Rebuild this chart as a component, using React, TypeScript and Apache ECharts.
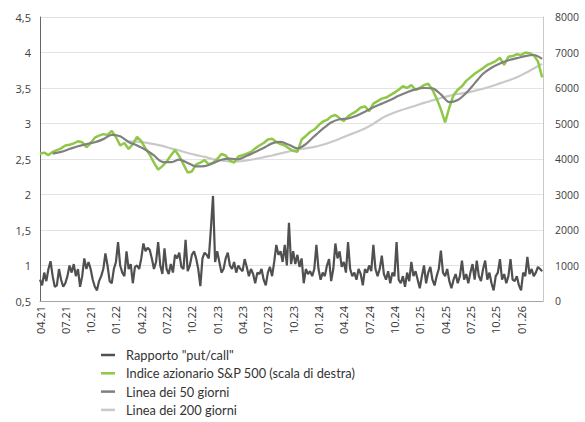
import React, { useEffect, useRef } from 'react';
import * as echarts from 'echarts';

// x unit: months since April 2021
const xTickLabels = ['04.21', '07.21', '10.21', '01.22', '04.22', '07.22', '10.22', '01.23', '04.23', '07.23', '10.23', '01.24', '04.24', '07.24', '10.24', '01.25', '04.25', '07.25', '10.25', '01.26'];

const seriesNames = ['Rapporto "put/call"', 'Indice azionario S&P 500 (scala di destra)', 'Linea dei 50 giorni', 'Linea dei 200 giorni'];

// put/call ratio, weekly (step 0.25 month from Apr 2021)
const putCallStep = 0.25;
const putCall = [
  0.80, 0.72, 0.90, 0.78, 0.95, 1.06, 0.85, 0.70, 0.72, 0.95, 0.80, 0.70,
  0.75, 0.85, 1.00, 0.90, 1.02, 0.85, 0.95, 0.70, 0.85, 1.10, 0.95, 1.05,
  0.95, 0.80, 0.70, 0.65, 0.78, 0.85, 0.95, 1.17, 1.00, 0.78, 0.75, 0.95,
  1.05, 1.33, 1.00, 0.90, 0.85, 1.20, 0.95, 1.02, 0.75, 0.98, 1.00, 0.95,
  1.10, 1.31, 1.20, 1.25, 1.22, 1.10, 0.95, 1.05, 1.33, 1.00, 0.88, 1.24,
  0.95, 0.88, 1.02, 0.90, 1.15, 1.10, 1.18, 0.98, 0.95, 1.36, 0.92, 1.00,
  1.15, 1.20, 1.10, 0.95, 0.71, 1.10, 1.18, 1.15, 1.10, 1.52, 1.98, 1.05,
  1.20, 1.05, 0.90, 0.95, 1.10, 1.18, 1.00, 0.95, 1.05, 0.90, 1.00, 0.95,
  0.92, 1.09, 0.98, 0.85, 0.95, 0.88, 0.75, 0.90, 0.88, 0.95, 0.80, 0.72,
  0.90, 0.98, 0.85, 1.05, 1.29, 1.15, 1.20, 1.05, 1.29, 1.00, 1.60, 1.02,
  1.20, 1.02, 1.15, 0.98, 1.10, 0.75, 0.95, 0.88, 0.92, 0.85, 0.95, 1.29,
  0.95, 0.80, 0.90, 0.85, 1.00, 1.09, 0.78, 0.95, 1.31, 1.10, 1.20, 0.98,
  1.05, 0.90, 1.33, 0.95, 0.85, 0.90, 0.80, 0.95, 0.88, 0.72, 0.95, 0.90,
  1.00, 0.92, 1.29, 0.95, 0.85, 0.95, 1.14, 0.88, 0.80, 0.92, 0.75, 0.90,
  0.85, 1.33, 0.80, 0.75, 0.85, 0.70, 0.90, 0.78, 1.05, 0.85, 0.92, 0.80,
  0.68, 0.85, 1.00, 0.75, 0.90, 0.98, 0.80, 0.72, 0.85, 0.95, 1.21, 0.90,
  0.85, 0.95, 0.78, 0.68, 0.80, 0.88, 0.75, 0.85, 1.07, 0.80, 0.88, 0.75,
  0.90, 1.02, 0.80, 1.07, 0.85, 0.78, 0.95, 1.07, 0.80, 0.90, 0.75, 0.65,
  0.85, 0.90, 1.09, 0.80, 0.88, 0.75, 0.85, 1.09, 0.80, 0.78, 0.85, 0.72,
  0.65, 0.90, 0.85, 1.12, 0.88, 0.95, 0.85, 0.90, 0.98, 0.95, 0.92,
];

// S&P 500, half-monthly from Apr 2021
const spxStep = 0.5;
const spx = [
  4150, 4180, 4110, 4200, 4250, 4300, 4380, 4400, 4440, 4500,
  4470, 4330, 4450, 4600, 4660, 4700, 4680, 4790, 4620, 4380,
  4450, 4280, 4420, 4620, 4500, 4300, 4120, 3900, 3700, 3800,
  3930, 4100, 4250, 4080, 3850, 3620, 3650, 3850, 3900, 3970,
  3850, 3900, 4000, 4140, 4100, 3950, 3900, 4070, 4110, 4150,
  4200, 4300, 4380, 4450, 4550, 4570, 4480, 4420, 4380, 4300,
  4230, 4200, 4550, 4650, 4760, 4830, 4950, 5050, 5100, 5200,
  5240, 5150, 5070, 5200, 5280, 5350, 5450, 5480, 5350, 5560,
  5630, 5700, 5730, 5800, 5870, 5950, 6050, 6000, 6080, 5950,
  6000, 6080, 6120, 5950, 5700, 5400, 5030, 5450, 5800, 5950,
  6050, 6200, 6300, 6400, 6480, 6560, 6650, 6700, 6760, 6850,
  6650, 6880, 6900, 6950, 6930, 7000, 6980, 6920, 6750, 6300,
];

// 50-day line, monthly from mid-May 2021
const ma50Start = 1.5;
const ma50 = [
  4150, 4200, 4280, 4360, 4420, 4470, 4560, 4680, 4640, 4480,
  4380, 4260, 4100, 3920, 3910, 3980, 3890, 3790, 3800, 3880,
  3980, 4010, 3990, 4090, 4200, 4310, 4440, 4480, 4400, 4300,
  4420, 4640, 4850, 5030, 5120, 5140, 5220, 5330, 5460, 5560,
  5660, 5780, 5880, 5960, 6000, 5990, 5820, 5600, 5660, 5860,
  6130, 6400, 6570, 6690, 6780, 6840, 6900, 6930, 6820,
];

// 200-day line, monthly from mid-Feb 2022
const ma200Start = 10.5;
const ma200 = [
  4500, 4490, 4460, 4420, 4370, 4300, 4240, 4170, 4110, 4060,
  4000, 3960, 3930, 3930, 3960, 4000, 4050, 4100, 4160, 4210,
  4260, 4300, 4340, 4400, 4480, 4570, 4670, 4760, 4860, 4990,
  5150, 5260, 5350, 5430, 5500, 5580, 5650, 5720, 5780, 5830,
  5870, 5920, 5980, 6050, 6130, 6210, 6300, 6420, 6550, 6680,
];

const colors = ['#505050', '#8fc846', '#808080', '#c9c9c9'];
const axisFont = 'Open Sans, Noto Sans, sans-serif';

export default function App() {
  const ref = useRef<HTMLDivElement>(null);
  useEffect(() => {
    const chart = echarts.init(ref.current!, undefined, { renderer: 'svg' });
    const option: any = {
      animation: false,
      backgroundColor: '#ffffff',
      grid: { left: 40, right: 42, top: 17, bottom: 121, containLabel: false },
      legend: {
        orient: 'vertical',
        left: 101,
        top: 348,
        padding: 0,
        itemWidth: 14,
        itemHeight: 2.5,
        itemGap: 4.3,
        textStyle: { fontFamily: 'Lato, sans-serif', fontSize: 12.8, color: '#333333', lineHeight: 14, padding: [0, 0, 0, 6] },
        data: seriesNames.map((n) => ({ name: n, icon: 'rect' })),
      },
      xAxis: {
        type: 'value',
        min: 0,
        max: 59.6,
        interval: 3,
        splitLine: { show: false },
        axisTick: { show: false },
        axisLine: { show: true, lineStyle: { color: '#a6a6a6', width: 1 } },
        axisLabel: {
          rotate: 90,
          margin: 5,
          fontSize: 11,
          fontFamily: axisFont,
          color: '#333333',
          showMaxLabel: false,
          formatter: (v: number) => {
            const i = Math.round(v / 3);
            return Math.abs(v - i * 3) < 1e-6 && i < xTickLabels.length ? xTickLabels[i] : '';
          },
        },
      },
      yAxis: [
        {
          type: 'value',
          min: 0.5,
          max: 4.5,
          interval: 0.5,
          axisLine: { show: true, lineStyle: { color: '#666666', width: 1 } },
          axisTick: { show: false },
          splitLine: { show: true, lineStyle: { color: '#e3e3e3', width: 1 } },
          axisLabel: {
            margin: 9,
            fontSize: 11,
            fontFamily: axisFont,
            color: '#404040',
            formatter: (v: number) => String(v).replace('.', ','),
          },
        },
        {
          type: 'value',
          min: 0,
          max: 8000,
          interval: 1000,
          position: 'right',
          axisLine: { show: true, lineStyle: { color: '#c8c8c8', width: 1 } },
          axisTick: { show: false },
          splitLine: { show: false },
          axisLabel: {
            margin: 12,
            fontSize: 10.5,
            fontFamily: axisFont,
            color: '#404040',
            formatter: (v: number) => String(v),
          },
        },
      ],
      series: [
        {
          name: seriesNames[0],
          type: 'line',
          yAxisIndex: 0,
          symbol: 'none',
          color: colors[0],
          lineStyle: { color: colors[0], width: 2.2 },
          data: putCall.map((v, i) => [i * putCallStep, v]),
        },
        {
          name: seriesNames[3],
          type: 'line',
          yAxisIndex: 1,
          symbol: 'none',
          color: colors[3],
          lineStyle: { color: colors[3], width: 2.2 },
          smooth: 0.3,
          data: ma200.map((v, i) => [ma200Start + i, v]),
        },
        {
          name: seriesNames[1],
          type: 'line',
          yAxisIndex: 1,
          symbol: 'none',
          color: colors[1],
          lineStyle: { color: colors[1], width: 2.5 },
          data: spx.map((v, i) => [i * spxStep, v]),
        },
        {
          name: seriesNames[2],
          type: 'line',
          yAxisIndex: 1,
          symbol: 'none',
          color: colors[2],
          lineStyle: { color: colors[2], width: 2.2 },
          smooth: 0.3,
          data: ma50.map((v, i) => [ma50Start + i, v]),
        },
      ],
    };
    chart.setOption(option);
    return () => chart.dispose();
  }, []);
  return (
    <div
      ref={ref}
      style={{ position: 'fixed', left: 0, top: 0, width: 585, height: 422, background: '#ffffff' }}
    />
  );
}
